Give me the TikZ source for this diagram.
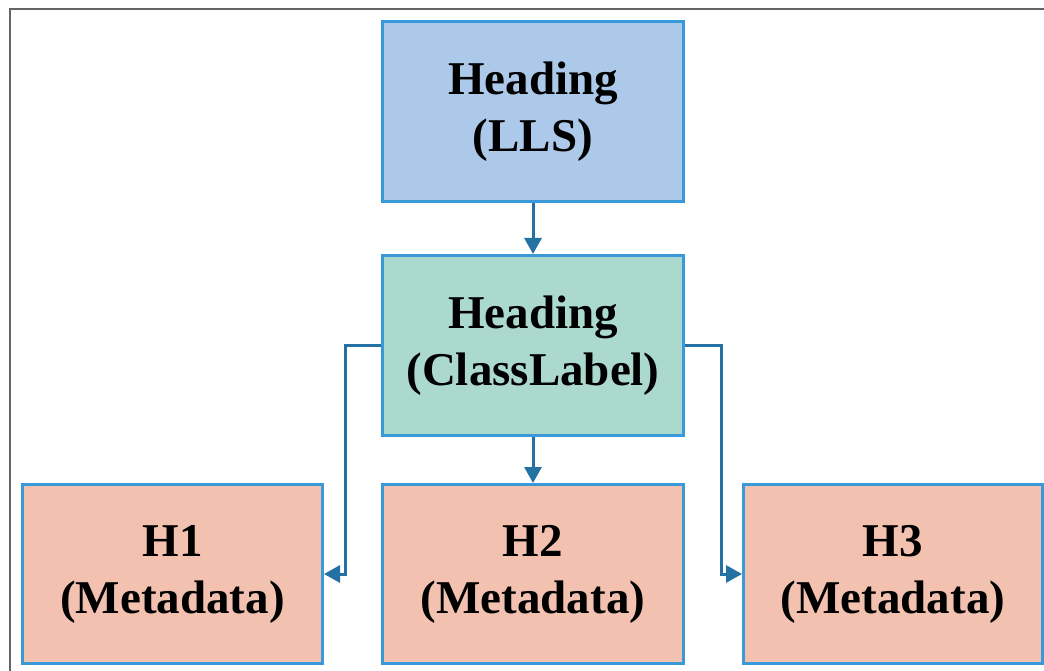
\documentclass[tikz,border=0pt]{standalone}
\usepackage{fontspec}
\setmainfont{Liberation Serif}
\usetikzlibrary{arrows.meta}
\definecolor{boxline}{RGB}{58,154,217}
\definecolor{connblue}{RGB}{36,113,163}
\definecolor{fillblue}{RGB}{173,201,233}
\definecolor{fillgreen}{RGB}{171,217,206}
\definecolor{fillsalmon}{RGB}{243,193,176}
\definecolor{framegray}{RGB}{100,100,100}
\tikzset{
  box/.style={draw=boxline, line width=3pt, rectangle, align=center,
    minimum width=301pt, minimum height=180pt, inner sep=0pt,
    font=\fontsize{47}{57}\selectfont\bfseries, text=black},
  conn/.style={draw=connblue, line width=3pt,
    -{Triangle[length=16pt,width=17pt]}},
}
\begin{document}
\begin{tikzpicture}[x=1pt,y=-1pt]
  \useasboundingbox (0,0) rectangle (1044,671);
  \fill[white] (0,0) rectangle (1044,671);
  % outer frame, open towards right and bottom
  \draw[framegray, line width=2pt] (10,671) -- (10,9) -- (1044,9);

  \node[box, fill=fillblue]  (lls) at (533,111.5) {Heading\\(LLS)};
  \node[box, fill=fillgreen] (cls) at (533,345.5) {Heading\\(ClassLabel)};
  \node[box, fill=fillsalmon, minimum height=179pt, minimum width=300pt] (h1) at (172.5,574) {H1\\(Metadata)};
  \node[box, fill=fillsalmon, minimum height=179pt] (h2) at (533,574) {H2\\(Metadata)};
  \node[box, fill=fillsalmon, minimum height=179pt, minimum width=299pt] (h3) at (893,574) {H3\\(Metadata)};

  \draw[conn] (lls) -- (cls);
  \draw[conn] (cls) -- (h2);
  \draw[conn] (cls.west) -- ++(-36,0) |- (h1.east);
  \draw[conn] (cls.east) -- ++(36,0) |- (h3.west);
\end{tikzpicture}
\end{document}
